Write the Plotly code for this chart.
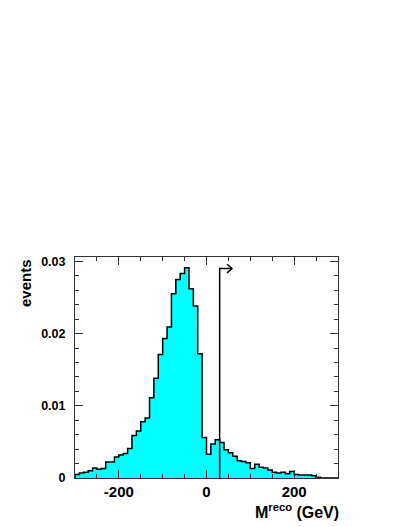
import numpy as np
import plotly.graph_objects as go

# M_reco histogram, 10 GeV bins from -300 to 300
bin_edges = np.arange(-300, 301, 10)
events = [
    0.0005, 0.0007, 0.0008, 0.0010, 0.0014, 0.0012, 0.0013, 0.0022, 0.0022, 0.0029,
    0.0032, 0.0034, 0.0041, 0.0059, 0.0065, 0.0078, 0.0083, 0.0111, 0.0138, 0.0171,
    0.0193, 0.0209, 0.0255, 0.0275, 0.0283, 0.0291, 0.0262, 0.0238, 0.0172, 0.0056,
    0.0033, 0.0047, 0.0053, 0.0049, 0.0039, 0.0035, 0.0030, 0.0024, 0.0023, 0.0021,
    0.0013, 0.0019, 0.0015, 0.0014, 0.0011, 0.0008, 0.0007, 0.0008, 0.0006, 0.0009,
    0.0005, 0.0004, 0.0004, 0.0004, 0.0003, 0.0001, 0.0, 0.0, 0.0, 0.0,
]
x_ticks = [-200, 0, 200]
x_ticklabels = ["-200", "0", "200"]
y_ticks = [0, 0.01, 0.02, 0.03]
y_ticklabels = ["0", "0.01", "0.02", "0.03"]

# cut arrow
cut_value = 30
arrow_top = 0.029
arrow_len = 28

FONT = "Liberation Sans"

# step outline: start at 0, climb to first bin, ..., drop back to 0
xs = np.concatenate([[bin_edges[0]], bin_edges])
ys = np.concatenate([[0.0], events, [0.0]])

fig = go.Figure()

fig.add_trace(
    go.Scatter(
        x=xs,
        y=ys,
        mode="lines",
        line=dict(color="black", width=1.5, shape="hv"),
        fill="tozeroy",
        fillcolor="#00FFFF",
        hoverinfo="skip"
    )
)

# cut line with open arrow head
head_dx = 11
head_dy = 0.0006
fig.add_trace(
    go.Scatter(
        x=[cut_value, cut_value, cut_value + arrow_len, None,
           cut_value + arrow_len - head_dx, cut_value + arrow_len, cut_value + arrow_len - head_dx],
        y=[0, arrow_top, arrow_top, None,
           arrow_top + head_dy, arrow_top, arrow_top - head_dy],
        mode="lines",
        line=dict(color="black", width=1.5),
        hoverinfo="skip"
    )
)

axis_common = dict(
    showgrid=False,
    zeroline=False,
    showline=True,
    linecolor="#333333",
    linewidth=1,
    mirror="ticks",
    ticks="inside",
    tickcolor="#333333",
    tickwidth=1,
)

fig.update_xaxes(
    range=[-300, 300],
    tickvals=x_ticks,
    ticktext=x_ticklabels,
    ticklen=8,
    minor=dict(dtick=50, ticks="inside", ticklen=4, tickcolor="#333333"),
    tickfont=dict(family=FONT, size=15, color="black", weight="bold"),
    ticklabelstandoff=0,
    **axis_common
)
fig.update_yaxes(
    range=[0, 0.0306],
    tickvals=y_ticks,
    ticktext=y_ticklabels,
    ticklen=8,
    minor=dict(dtick=0.002, ticks="inside", ticklen=4, tickcolor="#333333"),
    tickfont=dict(family=FONT, size=12.5, color="black", weight="bold"),
    ticklabelstandoff=6,
    **axis_common
)

fig.add_annotation(
    text="M<sup>reco</sup> (GeV)",
    xref="paper", yref="paper",
    x=1.01, y=-0.148,
    xanchor="right", yanchor="middle",
    showarrow=False,
    font=dict(family=FONT, size=16, color="black", weight="bold")
)
fig.add_annotation(
    text="events",
    xref="paper", yref="paper",
    x=-0.19, y=1.0,
    xanchor="center", yanchor="top",
    textangle=-90,
    showarrow=False,
    font=dict(family=FONT, size=15, color="black", weight="bold")
)

# page body adds an 8px offset, so the figure is 8px smaller
fig.update_layout(
    width=399,
    height=519,
    margin=dict(l=67, r=69, t=249, b=49),
    paper_bgcolor="white",
    plot_bgcolor="white",
    showlegend=False
)

fig.write_html("out.html")
